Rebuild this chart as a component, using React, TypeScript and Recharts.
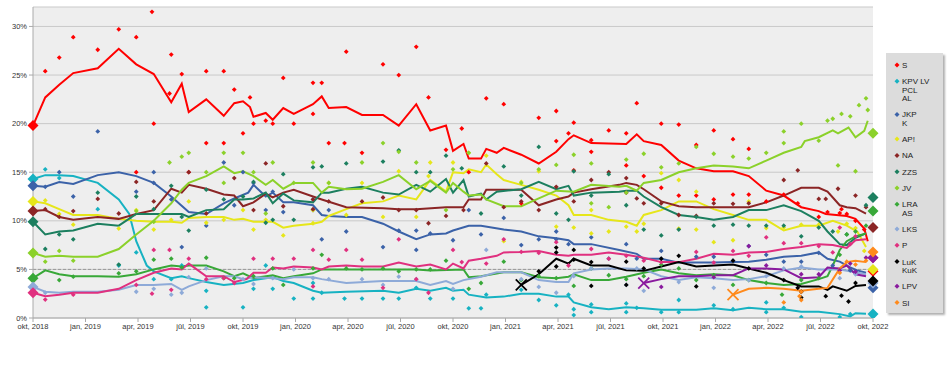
import { ComposedChart, Line, Scatter, XAxis, YAxis, CartesianGrid, ReferenceLine } from 'recharts';

// x = months since October 2018, y = percent
const MONTH_TICKS = [0, 3, 6, 9, 12, 15, 18, 21, 24, 27, 30, 33, 36, 39, 42, 45, 48];
const MONTH_LABELS = [
  'okt, 2018', 'jan, 2019', 'apr, 2019', 'jūl, 2019', 'okt, 2019', 'jan, 2020', 'apr, 2020', 'jūl, 2020',
  'okt, 2020', 'jan, 2021', 'apr, 2021', 'jūl, 2021', 'okt, 2021', 'jan, 2022', 'apr, 2022', 'jūl, 2022', 'okt, 2022',
];
const PCT_TICKS = [0, 5, 10, 15, 20, 25, 30];

const PARTY_KEYS = ['S', 'KPV', 'JKPK', 'AP', 'NA', 'ZZS', 'JV', 'LRA', 'LKS', 'P', 'LUK', 'LPV', 'SI'];
const LEGEND_LABELS = [
  ['S'], ['KPV LV', 'PCL', 'AL'], ['JKP', 'K'], ['AP!'], ['NA'], ['ZZS'], ['JV'],
  ['LRA', 'AS'], ['LKS'], ['P'], ['LuK', 'KuK'], ['LPV'], ['SI'],
];
// 2018 election (okt 2018) and 2022 election (okt 2022)
const RESULTS_2018 = [19.8, 14.3, 13.6, 12.0, 11.0, 9.9, 6.7, 4.1, 3.2, 2.6, null, null, null];
const RESULTS_2022 = [4.8, 0.4, 3.1, 5.0, 9.3, 12.4, 19.0, 11.0, 3.6, 6.2, 3.8, 6.2, 6.8];

const S_TREND = [[0,19.8],[0.7,22.7],[1.5,24.0],[2.3,25.2],[3.7,25.7],[4.9,27.7],[5.9,26.1],[6.9,25.1],[7.9,22.2],[8.5,24.1],[8.9,21.2],[9.9,22.5],[10.9,20.8],[11.5,22.1],[12.0,22.3],[12.4,21.7],[12.6,20.7],[13.3,21.1],[13.7,20.4],[14.3,21.6],[14.9,21.0],[16.0,22.0],[16.5,22.8],[16.9,21.6],[17.9,21.7],[18.8,20.9],[20.0,20.9],[20.9,19.8],[21.9,22.0],[22.7,19.3],[23.6,19.8],[24.0,17.2],[24.6,17.9],[24.9,16.4],[25.6,16.4],[25.9,17.4],[26.5,17.0],[26.9,17.5],[27.9,16.8],[28.9,15.9],[29.9,17.1],[30.6,18.4],[30.9,18.8],[31.9,18.0],[33.9,17.9],[34.5,18.9],[34.9,18.2],[35.9,17.8],[36.9,16.2],[37.9,15.4],[38.9,15.1],[40.0,15.1],[40.9,14.6],[41.9,13.1],[42.9,12.6],[43.9,11.4],[44.9,11.0],[45.3,10.7],[46.5,10.5],[47.0,10.2],[47.5,9.2],[47.7,7.9]];
const KPV_TREND = [[0,14.3],[0.7,14.7],[1.5,14.7],[2.3,14.6],[3.7,13.9],[4.9,12.2],[5.5,10.7],[5.9,7.9],[6.5,5.4],[6.9,4.8],[7.9,4.1],[8.5,4.3],[8.9,4.1],[9.9,3.7],[10.9,3.4],[12.0,3.6],[12.6,3.9],[13.7,4.2],[14.3,3.8],[14.9,3.6],[16.0,2.8],[16.5,2.6],[17.9,2.7],[20.0,2.8],[20.9,2.6],[21.9,3.0],[22.7,2.8],[23.6,3.1],[24.0,2.8],[24.6,2.9],[24.9,2.4],[25.9,2.1],[26.9,2.2],[27.9,2.5],[28.9,2.5],[29.9,2.2],[30.6,2.2],[30.9,1.6],[31.9,1.1],[32.9,0.9],[33.9,1.1],[34.9,1.0],[35.9,0.85],[37.9,0.85],[38.9,1.0],[40.0,0.8],[40.9,1.05],[41.9,0.9],[42.9,0.9],[43.9,0.65],[44.9,0.65],[46.1,0.4],[46.7,0.15],[47.0,0.5],[47.6,0.45]];
const JKPK_TREND = [[0,13.6],[0.7,13.5],[1.5,14.0],[2.3,13.8],[3.7,14.7],[4.9,15.0],[5.9,14.6],[6.9,13.9],[7.9,12.5],[8.9,10.9],[9.9,10.7],[10.9,11.8],[11.5,12.3],[12.3,12.9],[12.6,13.7],[13.3,12.5],[13.7,12.9],[14.3,11.9],[14.9,11.9],[16.0,11.6],[16.5,10.6],[16.9,10.5],[17.9,10.4],[18.8,10.4],[20.0,9.7],[20.9,8.9],[21.9,8.1],[22.7,8.6],[23.6,8.7],[24.0,9.0],[24.9,9.5],[25.6,9.5],[26.9,9.1],[27.9,8.9],[28.9,8.4],[29.9,8.2],[30.6,8.0],[30.9,7.6],[31.9,7.6],[33.5,7.0],[34.5,6.6],[34.9,6.1],[35.9,6.1],[36.9,5.7],[37.9,5.7],[38.9,5.7],[40.0,5.75],[40.9,5.8],[41.9,6.0],[42.9,6.3],[43.9,6.4],[44.9,6.75],[45.4,6.1],[46.1,5.8],[46.7,5.2],[47.1,4.9],[47.6,4.65]];
const AP_TREND = [[0,12.0],[0.7,11.8],[1.5,11.2],[2.3,10.6],[3.7,10.6],[4.9,10.2],[5.9,10.0],[6.9,9.9],[7.9,9.9],[8.5,9.8],[8.9,10.3],[9.9,10.4],[10.9,10.4],[11.5,10.1],[12.0,10.2],[12.6,9.9],[13.7,9.9],[14.3,9.3],[14.9,9.5],[16.0,9.7],[16.5,9.9],[16.9,10.5],[17.9,11.2],[18.8,11.8],[20.0,12.0],[20.9,12.6],[21.9,12.2],[22.7,14.2],[23.6,13.0],[24.0,15.0],[24.6,14.9],[24.9,15.3],[25.6,15.0],[25.9,15.8],[26.5,14.8],[26.9,14.2],[27.9,13.7],[28.9,13.2],[29.9,12.6],[30.6,11.6],[30.9,10.6],[31.9,10.6],[32.9,10.1],[33.9,9.9],[34.5,9.5],[34.9,10.6],[35.9,11.1],[36.9,12.0],[37.9,12.0],[38.9,11.2],[40.0,10.6],[40.9,10.1],[41.9,10.1],[42.9,9.0],[43.9,9.5],[44.9,9.5],[45.7,10.0],[46.5,9.5],[47.1,8.9],[47.6,7.3]];
const NA_TREND = [[0,11.0],[0.7,11.1],[1.5,10.4],[2.3,10.1],[3.7,10.4],[4.9,10.2],[5.9,10.7],[6.9,11.1],[7.9,13.3],[8.5,12.9],[8.9,13.7],[9.9,13.3],[10.9,12.7],[11.5,12.6],[12.0,11.5],[12.6,11.9],[13.3,12.8],[13.7,12.4],[14.3,12.9],[14.9,13.2],[16.0,12.5],[16.5,12.2],[17.9,11.4],[20.0,11.3],[20.9,11.2],[21.9,11.2],[23.6,11.4],[24.6,11.4],[24.9,12.2],[25.6,12.2],[25.9,13.2],[26.9,13.2],[27.9,13.2],[28.9,11.6],[29.9,12.2],[30.6,12.5],[30.9,12.9],[31.9,13.25],[33.5,13.7],[33.9,13.9],[34.5,13.7],[34.9,13.25],[35.9,12.0],[36.9,11.5],[37.9,11.4],[40.0,11.4],[40.9,11.4],[41.9,11.9],[42.9,12.6],[43.9,13.4],[44.9,13.4],[45.4,13.0],[46.1,11.6],[46.5,11.4],[47.0,11.3],[47.6,10.75]];
const ZZS_TREND = [[0,9.9],[0.7,8.6],[1.5,8.9],[2.3,9.0],[3.7,9.7],[4.9,9.5],[5.9,10.7],[6.9,10.7],[7.9,10.7],[8.5,10.7],[8.9,10.4],[9.9,11.1],[10.9,11.2],[11.5,12.2],[12.0,12.2],[12.6,12.3],[13.3,12.9],[13.7,11.8],[14.3,12.8],[14.9,12.1],[16.0,11.9],[16.5,12.9],[16.9,12.9],[17.9,13.3],[18.8,13.5],[20.0,12.9],[20.9,12.7],[21.9,13.7],[22.7,13.0],[23.6,14.3],[24.0,12.9],[24.6,14.2],[24.9,12.5],[25.6,12.8],[25.9,12.2],[26.5,13.0],[27.9,13.25],[28.9,14.0],[29.9,13.25],[30.6,13.6],[30.9,12.6],[31.9,12.9],[33.5,13.0],[33.9,13.1],[34.5,13.1],[34.9,12.5],[35.9,11.4],[36.9,10.6],[37.9,10.4],[38.9,10.1],[40.0,10.4],[40.9,11.1],[41.9,11.1],[42.9,11.6],[43.9,11.0],[44.9,10.0],[45.4,8.9],[46.1,7.6],[46.5,7.5],[47.0,8.25],[47.6,8.7]];
const JV_TREND = [[0,6.7],[0.7,6.3],[1.5,6.4],[2.3,6.3],[3.7,6.3],[4.9,7.1],[5.9,8.6],[6.9,10.0],[7.9,11.8],[8.5,13.2],[8.9,13.9],[9.9,14.6],[10.9,15.6],[11.5,14.9],[12.0,15.1],[12.6,14.6],[13.3,13.7],[13.7,14.2],[14.3,13.3],[14.9,13.9],[16.0,13.9],[16.5,12.9],[16.9,13.5],[17.9,13.25],[18.8,13.3],[20.0,14.0],[20.9,14.7],[21.9,13.25],[22.7,14.1],[23.6,12.9],[24.0,13.9],[24.6,13.0],[24.9,12.6],[25.6,12.7],[25.9,12.2],[26.9,11.5],[27.9,11.5],[28.9,12.3],[29.9,13.1],[30.9,13.0],[31.9,13.7],[33.5,13.5],[33.9,13.6],[34.5,13.1],[34.9,13.9],[35.9,14.2],[36.9,15.0],[37.9,15.4],[38.9,15.7],[40.0,15.6],[40.9,15.4],[41.9,16.2],[42.9,17.0],[43.9,17.6],[44.1,18.2],[44.9,18.6],[45.7,19.3],[46.0,19.0],[46.6,19.6],[47.0,18.6],[47.5,19.25],[47.7,20.3]];
const LRA_TREND = [[0,4.1],[0.7,4.9],[1.5,4.5],[2.3,4.3],[3.7,4.3],[4.9,4.25],[5.9,4.5],[6.9,5.0],[7.9,5.4],[8.5,5.3],[8.9,5.4],[9.9,5.4],[10.9,4.8],[11.5,4.3],[12.0,4.6],[12.6,4.1],[13.7,4.4],[14.3,4.1],[14.9,4.3],[16.0,4.6],[16.5,5.0],[17.9,5.0],[20.0,5.0],[21.9,5.0],[22.7,4.9],[24.6,5.0],[24.9,4.2],[25.6,4.3],[26.9,4.7],[27.9,4.7],[28.9,4.2],[29.9,4.1],[30.6,4.25],[30.9,4.5],[31.9,3.9],[32.9,3.9],[33.9,4.25],[34.9,4.65],[35.9,5.0],[36.9,4.6],[37.9,4.4],[38.9,4.5],[40.0,4.4],[40.9,3.9],[41.9,3.6],[42.9,3.4],[43.9,3.5],[44.9,4.0],[45.4,4.3],[45.7,5.4],[46.1,7.0],[46.5,7.9],[47.0,8.4],[47.6,8.7]];
const LKS_TREND = [[0,3.2],[0.7,2.7],[1.5,2.6],[2.3,2.7],[3.7,2.7],[4.9,2.9],[5.9,3.4],[6.9,3.4],[7.9,3.5],[8.5,2.9],[8.9,3.25],[9.9,3.9],[10.9,4.3],[11.5,4.3],[12.0,4.0],[12.6,4.2],[13.7,4.1],[14.3,4.0],[14.9,4.2],[16.0,4.2],[16.5,4.0],[17.9,3.6],[20.0,3.8],[21.9,3.8],[22.7,3.4],[23.6,3.8],[24.0,3.5],[24.6,3.9],[25.6,4.25],[26.5,4.7],[27.9,4.7],[28.9,3.9],[29.9,3.7],[30.6,3.7],[30.9,4.6],[31.9,5.0],[32.9,5.1],[33.9,5.1],[34.9,5.0],[35.9,4.3],[36.9,3.9],[37.9,4.2],[38.9,4.1],[40.0,3.9],[40.9,4.0],[41.9,4.3],[42.9,4.9],[43.9,5.2],[44.9,5.0],[46.1,5.0],[47.0,4.7],[47.6,4.5]];
const P_TREND = [[0,2.6],[0.7,2.25],[1.5,2.4],[2.3,2.6],[3.7,2.6],[4.9,3.0],[5.9,3.9],[6.9,4.65],[7.9,5.1],[8.5,5.0],[8.9,5.6],[9.9,4.3],[10.9,4.3],[11.5,3.7],[12.2,4.0],[12.6,4.65],[13.3,4.65],[13.7,5.2],[14.3,5.1],[14.9,5.3],[16.0,5.2],[16.5,5.0],[16.9,5.3],[17.9,5.4],[18.8,5.3],[20.0,5.3],[20.9,5.7],[21.9,5.3],[22.7,5.5],[23.6,5.0],[24.0,5.6],[24.6,5.1],[24.9,5.9],[25.6,6.1],[26.5,6.4],[26.9,6.75],[27.9,6.8],[28.9,6.9],[29.9,6.5],[30.6,6.4],[30.9,6.5],[31.9,6.5],[32.9,6.75],[33.9,6.5],[34.9,6.2],[35.9,5.75],[36.9,5.75],[37.9,6.1],[38.9,6.6],[40.0,6.5],[40.9,6.75],[41.9,6.8],[42.9,7.1],[43.9,7.3],[44.9,7.6],[45.7,7.5],[46.5,7.2],[47.0,8.0],[47.6,8.1]];
const LUK_TREND = [[27.9,3.4],[28.9,4.5],[29.9,6.1],[30.6,5.6],[30.9,6.1],[31.9,5.4],[32.9,5.4],[33.9,4.9],[34.9,4.85],[35.9,5.3],[36.9,5.75],[37.9,5.3],[38.9,5.4],[40.0,5.5],[40.9,5.1],[41.9,4.65],[42.9,3.9],[43.9,3.25],[44.9,3.25],[45.4,2.9],[45.7,3.25],[46.5,2.8],[47.0,3.3],[47.6,3.4]];
const LPV_TREND = [[34.9,3.6],[35.9,4.0],[36.9,4.3],[37.9,4.3],[38.9,4.4],[40.0,4.4],[40.9,5.1],[41.9,5.1],[42.9,5.0],[43.9,4.1],[44.9,4.2],[45.4,5.2],[46.1,5.1],[46.5,5.4],[47.0,4.5],[47.6,4.3]];
const SI_TREND = [[40.0,2.4],[40.9,3.0],[41.9,3.1],[42.9,3.0],[43.9,2.8],[44.9,3.0],[45.4,3.1],[46.1,5.1],[46.5,5.75],[47.0,5.9],[47.6,5.75]];

const S_POLLS = [[0.7,25.4],[1.5,26.8],[2.3,28.9],[3.7,27.6],[4.9,29.7],[5.9,28.9],[5.9,15.0],[6.8,31.5],[6.9,20.0],[7.8,23.1],[7.9,27.1],[8.5,25.1],[8.9,15.0],[9.9,25.4],[9.9,18.0],[10.9,25.4],[10.9,18.0],[11.5,23.5],[12.0,19.0],[12.4,22.7],[12.6,20.0],[13.3,20.3],[13.7,20.0],[14.3,24.7],[14.9,20.0],[16.0,24.2],[16.0,21.0],[16.5,24.2],[16.9,18.0],[17.9,27.4],[17.8,18.0],[18.8,17.0],[20.0,26.1],[20.9,25.0],[21.9,27.9],[22.6,22.7],[23.6,17.3],[24.5,19.5],[24.9,15.0],[25.9,22.6],[26.9,22.0],[27.9,11.8],[28.9,20.6],[29.9,21.3],[29.9,18.2],[30.6,19.0],[30.9,20.1],[30.9,15.2],[31.9,18.3],[31.9,17.1],[32.9,19.3],[33.9,19.0],[33.9,15.7],[34.5,22.1],[34.9,14.6],[35.9,20.0],[35.9,13.4],[36.9,19.9],[36.9,12.6],[37.9,17.8],[37.9,12.6],[38.9,19.3],[38.9,12.2],[40.0,18.4],[40.0,12.7],[40.9,17.4],[40.9,12.7],[41.9,12.0],[42.9,12.7],[43.7,11.8],[44.9,10.4],[45.4,10.9],[46.1,10.8],[46.2,11.2],[46.5,10.7],[47.0,10.0],[47.5,9.1]];
const KPV_POLLS = [[0.7,15.3],[1.5,14.4],[3.7,11.2],[4.9,5.4],[5.9,6.75],[6.9,4.0],[7.9,4.0],[8.5,5.4],[9.9,1.1],[9.9,2.8],[12.0,1.1],[12.6,3.0],[13.3,5.4],[13.7,3.0],[14.9,2.0],[16.0,2.0],[16.0,3.6],[16.5,2.6],[17.8,2.0],[18.8,2.0],[20.0,2.0],[20.9,2.0],[21.9,3.1],[22.7,2.0],[24.0,2.0],[24.9,1.0],[25.6,1.0],[25.9,2.4],[27.9,2.9],[28.9,1.85],[29.9,1.3],[30.6,2.4],[30.9,0.3],[30.9,0.9],[31.9,1.4],[31.9,0.6],[33.9,1.5],[33.9,0.6],[34.5,1.05],[35.9,0.6],[36.9,1.85],[36.9,0.6],[38.9,1.3],[40.0,0.9],[41.9,1.6],[41.9,0.6],[42.9,1.05],[43.9,0.1],[46.1,0.1],[46.7,0.4]];
const JKPK_POLLS = [[0.7,13.5],[1.5,15.0],[2.3,12.5],[3.7,19.2],[5.9,13.0],[6.9,15.0],[6.9,13.9],[7.9,12.2],[8.5,7.3],[9.9,9.5],[10.9,16.0],[11.5,11.6],[12.0,15.0],[12.6,13.9],[13.3,11.1],[13.7,13.0],[14.3,10.9],[16.0,12.2],[16.0,11.1],[16.5,8.1],[16.9,11.1],[17.9,8.9],[20.0,7.3],[20.9,9.0],[21.9,7.0],[21.9,9.0],[22.7,8.7],[24.0,8.0],[24.9,11.1],[25.6,8.6],[26.9,10.3],[27.9,7.5],[28.9,8.1],[29.9,8.9],[29.9,8.1],[30.6,7.6],[31.9,8.3],[32.9,6.1],[33.9,7.6],[34.5,6.1],[35.9,6.9],[35.9,6.1],[37.9,6.3],[38.9,6.3],[40.0,5.9],[40.9,7.4],[41.9,6.5],[42.9,5.8],[43.9,5.8],[44.9,6.7],[45.7,5.4],[46.7,4.9],[47.0,4.8]];
const AP_POLLS = [[0.7,12.1],[1.5,10.7],[2.3,9.6],[4.9,9.2],[5.9,11.1],[6.9,9.1],[7.9,10.1],[8.9,12.0],[9.9,9.8],[10.9,10.1],[12.0,11.1],[12.6,9.1],[13.3,10.1],[14.3,8.5],[16.0,9.75],[16.0,11.1],[16.9,13.9],[17.9,10.6],[18.8,13.9],[20.0,10.4],[20.9,15.1],[21.9,10.4],[22.6,14.6],[22.7,16.0],[24.0,16.0],[24.9,17.0],[25.9,16.7],[26.9,7.9],[27.9,14.0],[28.9,15.1],[29.9,9.4],[30.9,9.3],[31.9,11.1],[31.9,8.7],[32.9,8.9],[33.9,9.4],[34.5,8.9],[34.9,9.7],[35.9,14.9],[36.9,14.2],[36.9,9.2],[37.9,13.0],[37.9,9.1],[38.9,7.8],[40.0,8.0],[40.9,12.0],[41.9,9.25],[42.9,9.3],[43.9,9.6],[44.9,9.6],[46.0,8.9],[46.5,9.7],[47.0,9.25],[47.5,6.9]];
const NA_POLLS = [[0.7,11.2],[1.5,10.4],[2.3,11.0],[3.7,12.25],[4.9,10.75],[5.9,14.0],[6.9,12.0],[8.9,15.0],[9.9,10.75],[11.5,14.4],[12.6,11.1],[13.3,15.9],[14.3,11.5],[16.0,11.2],[16.0,12.2],[16.9,12.0],[18.8,12.0],[20.0,12.4],[20.9,11.1],[21.9,11.1],[22.6,9.75],[23.6,10.5],[24.6,11.1],[25.9,15.9],[26.9,11.4],[27.9,12.0],[28.9,11.1],[29.9,13.5],[30.9,12.0],[31.9,14.2],[32.9,15.0],[33.9,14.4],[33.9,12.9],[34.5,12.3],[34.9,11.8],[35.9,11.8],[36.9,10.6],[37.9,10.5],[38.9,11.8],[40.0,11.75],[40.9,11.8],[42.9,14.2],[43.7,15.2],[44.9,12.25],[45.3,12.25],[46.0,13.3],[47.0,12.6],[47.6,11.4]];
const ZZS_POLLS = [[0.7,7.1],[1.5,8.6],[2.3,8.1],[3.7,12.9],[4.9,5.5],[5.9,12.5],[6.9,11.2],[7.9,13.6],[8.5,10.4],[8.9,9.0],[9.9,13.2],[10.9,12.2],[12.0,12.5],[12.6,14.0],[13.3,9.8],[13.7,10.1],[14.3,14.8],[14.9,10.1],[16.0,15.5],[16.5,15.6],[17.9,15.9],[20.0,16.1],[20.9,17.25],[21.9,15.0],[22.7,15.0],[23.6,16.7],[24.5,15.4],[25.6,10.75],[26.9,15.6],[27.9,12.6],[28.9,17.6],[29.9,10.75],[30.6,10.1],[30.9,15.1],[31.9,12.6],[32.9,14.8],[33.9,11.6],[34.9,9.1],[35.9,8.5],[36.9,9.1],[37.9,10.4],[38.9,9.5],[40.0,9.6],[40.9,9.5],[41.9,9.5],[42.9,9.5],[43.9,8.4],[44.9,9.3],[45.7,8.9],[46.5,8.6],[47.6,11.6]];
const JV_POLLS = [[0.7,5.8],[1.5,6.9],[2.3,5.9],[5.9,11.0],[6.9,9.9],[7.8,16.0],[8.5,16.6],[8.9,17.0],[9.9,15.0],[10.9,17.0],[10.9,13.9],[12.0,17.0],[12.6,15.0],[13.3,10.75],[13.7,16.0],[14.9,13.9],[16.0,16.0],[16.9,13.9],[18.8,16.0],[20.0,18.0],[20.9,17.1],[21.9,16.0],[23.6,11.1],[24.0,15.3],[24.9,17.0],[27.9,13.9],[28.9,15.3],[29.9,15.75],[30.9,16.8],[31.9,15.9],[31.9,11.8],[32.9,11.4],[33.9,16.3],[33.9,12.9],[34.9,16.9],[35.9,15.5],[36.9,15.9],[37.9,17.6],[38.9,16.9],[40.0,16.6],[40.9,16.4],[41.9,17.0],[42.9,19.2],[42.9,18.0],[43.9,20.0],[44.9,18.25],[45.4,20.3],[45.7,20.5],[46.0,15.7],[46.2,21.0],[46.7,20.75],[47.0,15.1],[47.2,21.9],[47.6,22.6],[47.7,21.4]];
const LRA_POLLS = [[1.5,3.9],[2.3,4.25],[4.9,4.6],[5.9,4.8],[6.9,6.0],[7.9,6.1],[8.5,5.2],[9.9,6.2],[10.9,4.1],[11.5,4.1],[12.6,4.3],[13.7,5.1],[14.3,3.4],[16.0,5.1],[16.5,6.5],[17.9,5.1],[18.8,5.0],[20.0,5.1],[20.9,4.8],[21.9,5.0],[22.7,5.0],[23.6,5.9],[24.9,3.0],[25.6,3.6],[26.9,5.8],[27.9,3.9],[28.9,4.3],[29.9,4.1],[30.9,3.3],[31.9,5.1],[32.9,4.4],[33.9,4.0],[34.9,4.3],[35.9,5.5],[36.9,5.1],[37.9,3.9],[38.9,4.4],[40.0,3.4],[40.9,3.9],[41.9,3.6],[42.8,2.4],[43.9,3.9],[44.9,4.1],[46.1,6.5],[46.5,8.6],[47.0,8.9],[47.6,9.5]];
const LKS_POLLS = [[0.7,2.6],[5.9,2.7],[6.9,3.0],[7.9,2.4],[8.5,2.6],[8.9,4.2],[9.9,5.1],[12.0,4.0],[12.6,3.5],[13.7,4.1],[14.9,5.0],[16.0,4.1],[16.9,4.0],[18.8,4.0],[20.0,3.4],[20.9,4.25],[21.9,4.0],[24.0,3.0],[25.9,7.0],[27.9,4.0],[28.9,3.2],[29.9,2.6],[30.9,4.3],[31.9,5.1],[33.9,3.4],[34.5,5.1],[34.9,2.8],[36.9,3.7],[38.9,3.1],[40.9,3.9],[41.9,4.3],[42.9,5.1],[43.9,5.3],[46.1,4.1],[47.0,4.5]];
const P_POLLS = [[0.7,1.9],[2.3,2.4],[5.9,3.4],[6.8,2.5],[6.9,7.0],[7.9,2.9],[7.8,7.0],[8.9,6.1],[9.9,4.0],[10.9,4.1],[11.5,3.6],[12.6,6.1],[13.7,6.1],[14.9,6.1],[16.0,7.0],[16.0,3.25],[16.9,6.0],[17.9,7.0],[18.8,6.0],[20.0,3.1],[20.9,8.1],[21.9,4.0],[22.6,2.6],[24.0,7.0],[24.5,5.75],[25.9,5.6],[26.9,8.1],[27.9,6.8],[28.9,6.7],[29.9,7.8],[30.6,5.4],[31.9,7.1],[32.9,6.1],[33.9,6.4],[34.9,5.9],[35.9,5.75],[37.9,6.8],[38.9,5.7],[40.0,6.9],[40.9,6.4],[41.9,8.3],[42.9,7.7],[43.9,7.7],[44.9,7.4],[45.7,6.75],[46.1,9.3],[46.7,7.6],[47.0,8.4]];
const LUK_POLLS = [[28.9,4.8],[29.9,5.3],[29.9,7.25],[29.9,6.75],[30.9,7.0],[30.9,6.0],[31.9,5.75],[31.9,3.3],[33.9,5.8],[33.9,3.4],[34.9,5.1],[35.9,6.1],[36.9,6.4],[37.9,3.25],[40.0,5.9],[40.9,5.1],[42.9,3.9],[43.7,3.1],[43.9,2.1],[43.9,2.7],[45.3,2.25],[46.2,2.3],[46.6,1.7],[47.0,3.6]];
const LPV_POLLS = [[35.9,3.2],[38.9,4.2],[40.9,7.4],[41.9,5.4],[43.9,4.5],[44.9,4.5],[46.1,4.9],[46.7,5.6],[47.0,4.75],[47.6,6.2]];
const SI_POLLS = [[42.9,1.6],[43.8,2.25],[43.9,1.85],[43.9,2.7],[46.1,4.65],[46.5,5.8],[47.0,5.5],[47.6,5.9]];

const TRENDS = [S_TREND, KPV_TREND, JKPK_TREND, AP_TREND, NA_TREND, ZZS_TREND, JV_TREND, LRA_TREND, LKS_TREND, P_TREND, LUK_TREND, LPV_TREND, SI_TREND];
const POLLS = [S_POLLS, KPV_POLLS, JKPK_POLLS, AP_POLLS, NA_POLLS, ZZS_POLLS, JV_POLLS, LRA_POLLS, LKS_POLLS, P_POLLS, LUK_POLLS, LPV_POLLS, SI_POLLS];

const COLORS: Record<string, string> = {
  S: '#ff0000', KPV: '#17b2c2', JKPK: '#3b62a8', AP: '#e6e61a', NA: '#8b2525', ZZS: '#1c7f5f',
  JV: '#8bd12a', LRA: '#38a838', LKS: '#8eaad8', P: '#e0307f', LUK: '#000000', LPV: '#8a1a9e', SI: '#ff8a1c',
};

const toPts = (arr: number[][]) => arr.map(([x, y]) => ({ x, y }));

const PARTIES = PARTY_KEYS.map((key, i) => ({
  key,
  color: COLORS[key],
  legend: LEGEND_LABELS[i],
  trend: toPts(TRENDS[i]),
  polls: toPts(POLLS[i]),
  start: RESULTS_2018[i],
  end: RESULTS_2022[i],
}));

const FONT = '"Liberation Sans", Arial, sans-serif';

const diamond = (color: string, r: number) => (props: any) => {
  const { cx, cy } = props;
  if (cx == null || cy == null) return null;
  return <path d={`M${cx},${cy - r}L${cx + r},${cy}L${cx},${cy + r}L${cx - r},${cy}Z`} fill={color} />;
};

const cross = (color: string) => (props: any) => {
  const { cx, cy } = props;
  if (cx == null || cy == null) return null;
  const h = 5.5;
  return (
    <g stroke={color} strokeWidth={1.8}>
      <line x1={cx - h} y1={cy - h} x2={cx + h} y2={cy + h} />
      <line x1={cx - h} y1={cy + h} x2={cx + h} y2={cy - h} />
    </g>
  );
};

function LegendBox() {
  let y = 12;
  const rows = PARTIES.map(p => {
    const row = { p, y };
    y += 16.3 + (p.legend.length - 1) * 8.4;
    return row;
  });
  return (
    <div style={{
      position: 'absolute', left: 886, top: 53, width: 57, height: 260,
      background: '#dcdcdc', boxShadow: '2px 2px 2px #b0b0b0',
    }}>
      <svg width={57} height={260} style={{ display: 'block' }}>
        {rows.map(({ p, y }) => (
          <g key={p.key}>
            <path d={`M11,${y - 2.5}L13.5,${y}L11,${y + 2.5}L8.5,${y}Z`} fill={p.color} />
            {p.legend.map((t, j) => (
              <text key={j} x={16} y={y + 3 + j * 8.4} fontSize={8} fontFamily={FONT} fill="#222">{t}</text>
            ))}
          </g>
        ))}
      </svg>
    </div>
  );
}

export default function App() {
  return (
    <div style={{ position: 'absolute', left: 0, top: 0, width: 950, height: 370, background: '#fff' }}>
      <ComposedChart width={950} height={370} margin={{ top: 7, right: 77, bottom: 22, left: 0 }}>
        <CartesianGrid vertical={false} stroke="#c9c9c9" fill="#eeeeee" />
        <XAxis
          type="number"
          dataKey="x"
          domain={[0, 48]}
          ticks={MONTH_TICKS}
          tickFormatter={(v: number) => MONTH_LABELS[MONTH_TICKS.indexOf(v)] ?? ''}
          tick={{ fill: '#333', fontSize: 7.5, fontFamily: FONT }}
          tickSize={4}
          stroke="#aaa"
          interval={0}
        />
        <YAxis
          type="number"
          dataKey="y"
          domain={[0, 32]}
          ticks={PCT_TICKS}
          width={33}
          tickFormatter={(v: number) => `${v}%`}
          tick={{ fill: '#333', fontSize: 7.5, fontFamily: FONT }}
          tickSize={4}
          stroke="#aaa"
          allowDataOverflow
        />
        <ReferenceLine y={5} stroke="#999" strokeDasharray="3 2" />
        {PARTIES.map(p => (
          <Scatter key={`poll-${p.key}`} data={p.polls} dataKey="y" shape={diamond(p.color, 2.4)} isAnimationActive={false} />
        ))}
        {PARTIES.map(p => (
          <Line
            key={`trend-${p.key}`}
            data={p.trend}
            dataKey="y"
            type="linear"
            stroke={p.color}
            strokeWidth={2}
            dot={false}
            isAnimationActive={false}
          />
        ))}
        {PARTIES.filter(p => p.start != null).map(p => (
          <Scatter key={`start-${p.key}`} data={[{ x: 0, y: p.start }]} dataKey="y" shape={diamond(p.color, 5.5)} isAnimationActive={false} />
        ))}
        {PARTIES.filter(p => p.start == null).map(p => (
          <Scatter key={`launch-${p.key}`} data={[p.trend[0]]} dataKey="y" shape={cross(p.color)} isAnimationActive={false} />
        ))}
        {PARTIES.map(p => (
          <Scatter key={`end-${p.key}`} data={[{ x: 48, y: p.end }]} dataKey="y" shape={diamond(p.color, 5.5)} isAnimationActive={false} />
        ))}
      </ComposedChart>
      <LegendBox />
    </div>
  );
}
